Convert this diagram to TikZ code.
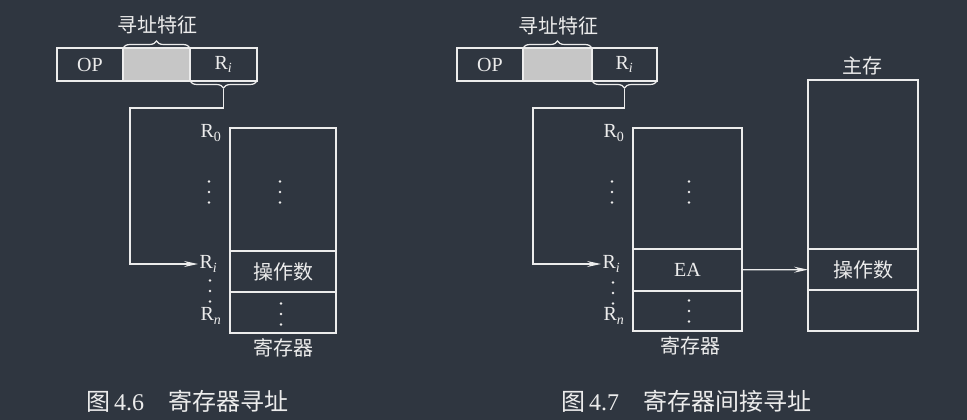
\documentclass[tikz,border=0pt]{standalone}
\usepackage{fontspec}
\setmainfont{Liberation Serif}
\newfontfamily\cjk{Noto Sans CJK SC}
\usetikzlibrary{positioning,arrows.meta,decorations.pathreplacing}
\definecolor{bgc}{RGB}{47,54,64}
\definecolor{ink}{RGB}{236,236,236}
\definecolor{grain}{RGB}{198,198,198}
\newcommand\vdotsat[1]{\foreach \d in {-10.5,0,10.5} \fill ([yshift=\d pt]#1) circle (1.4pt);}
\newcommand\regR[1]{R\textsubscript{#1}}

\begin{document}
\begin{tikzpicture}[x=1pt,y=-1pt,color=ink,line width=1.2pt,
  fld/.style={draw,outer sep=0pt,inner sep=0pt,minimum height=33pt,font=\fontsize{20}{24}\selectfont},
  cell/.style={draw,outer sep=0pt,inner sep=0pt,font=\fontsize{20}{24}\selectfont},
  lbl/.style={inner sep=1pt,font=\fontsize{20}{22}\selectfont},
  zh/.style={inner sep=1pt,font=\cjk\fontsize{20}{24}\selectfont},
  captext/.style={inner sep=1pt,font=\fontsize{24}{28}\selectfont},
  arr/.style={-{Stealth[length=14pt,width=6pt,inset=5pt]}},
  brc/.style={decorate,decoration={brace,amplitude=7pt}}]
\fill[bgc] (0,0) rectangle (967,420);
\useasboundingbox (0,0) rectangle (967,420);

\node[fld,minimum width=66pt] (opA) at (90,64.5) {OP};
\node[fld,minimum width=67pt,fill=grain,right=0pt of opA] (shA) {};
\node[fld,minimum width=67pt,right=0pt of shA] (riA) {\regR{\itshape i}};
\draw[brc] (shA.north west) -- (shA.north east);
\draw[brc] (riA.south east) -- (riA.south west);
\node[zh] (tagA) at (157,25) {寻址特征};
\coordinate (tipA) at ([yshift=-8pt]riA.south);
\coordinate (bendA) at (130,108);

\node[cell,minimum width=106pt,minimum height=123pt] (topA) at (283,189.5) {};
\node[cell,minimum width=106pt,minimum height=41pt,below=0pt of topA] (opdA) {\cjk 操作数};
\node[cell,minimum width=106pt,minimum height=41pt,below=0pt of opdA] (botA) {};
\node[zh] (regA) at (283,348) {寄存器};
\node[lbl] (lR0A) at (211,133) {\regR{0}};
\node[lbl,anchor=west] (lRiA) at (198,264) {\regR{\itshape i}};
\node[lbl] (lRnA) at (211,316) {\regR{\itshape n}};
\coordinate (cdotA) at (280,192);
\coordinate (cdot2A) at (281,314);
\coordinate (ldotA) at (209,192);
\coordinate (ldot2A) at (210,291);
\vdotsat{cdotA}
\vdotsat{cdot2A}
\vdotsat{ldotA}
\vdotsat{ldot2A}
\draw[arr] (tipA) |- (bendA) |- (lRiA.west);

\node[fld,minimum width=66pt] (opB) at (490,64.5) {OP};
\node[fld,minimum width=69pt,fill=grain,right=0pt of opB] (shB) {};
\node[fld,minimum width=65pt,right=0pt of shB] (riB) {\regR{\itshape i}};
\draw[brc] (shB.north west) -- (shB.north east);
\draw[brc] (riB.south east) -- (riB.south west);
\node[zh] (tagB) at (558,26) {寻址特征};
\coordinate (tipB) at ([yshift=-8pt]riB.south);
\coordinate (bendB) at (533,108);

\node[cell,minimum width=109pt,minimum height=121pt] (topB) at (687.5,188.5) {};
\node[cell,minimum width=109pt,minimum height=42pt,below=0pt of topB] (eaB) {EA};
\node[cell,minimum width=109pt,minimum height=40pt,below=0pt of eaB] (botB) {};
\node[zh] (regB) at (690,346) {寄存器};
\node[lbl] (lR0B) at (614,133) {\regR{0}};
\node[lbl,anchor=west] (lRiB) at (601,264) {\regR{\itshape i}};
\node[lbl] (lRnB) at (614,316) {\regR{\itshape n}};
\coordinate (cdotB) at (689,192);
\coordinate (cdot2B) at (689,311);
\coordinate (ldotB) at (612,192);
\coordinate (ldot2B) at (613,293);
\vdotsat{cdotB}
\vdotsat{cdot2B}
\vdotsat{ldotB}
\vdotsat{ldot2B}
\draw[arr] (tipB) |- (bendB) |- (lRiB.west);

\node[cell,minimum width=110pt,minimum height=169pt] (memB) at (863,164.5) {};
\node[cell,minimum width=110pt,minimum height=41pt,below=0pt of memB] (opdB) {\cjk 操作数};
\node[cell,minimum width=110pt,minimum height=41pt,below=0pt of opdB] (lowB) {};
\node[zh] (mainB) at (862,66) {主存};
\draw[arr] (eaB) -- (opdB);

\node[captext] (capA) at (187,401) {{\cjk 图}\,4.6\quad{\cjk 寄存器寻址}};
\node[captext] (capB) at (686,401) {{\cjk 图}\,4.7\quad{\cjk 寄存器间接寻址}};
\end{tikzpicture}
\end{document}
